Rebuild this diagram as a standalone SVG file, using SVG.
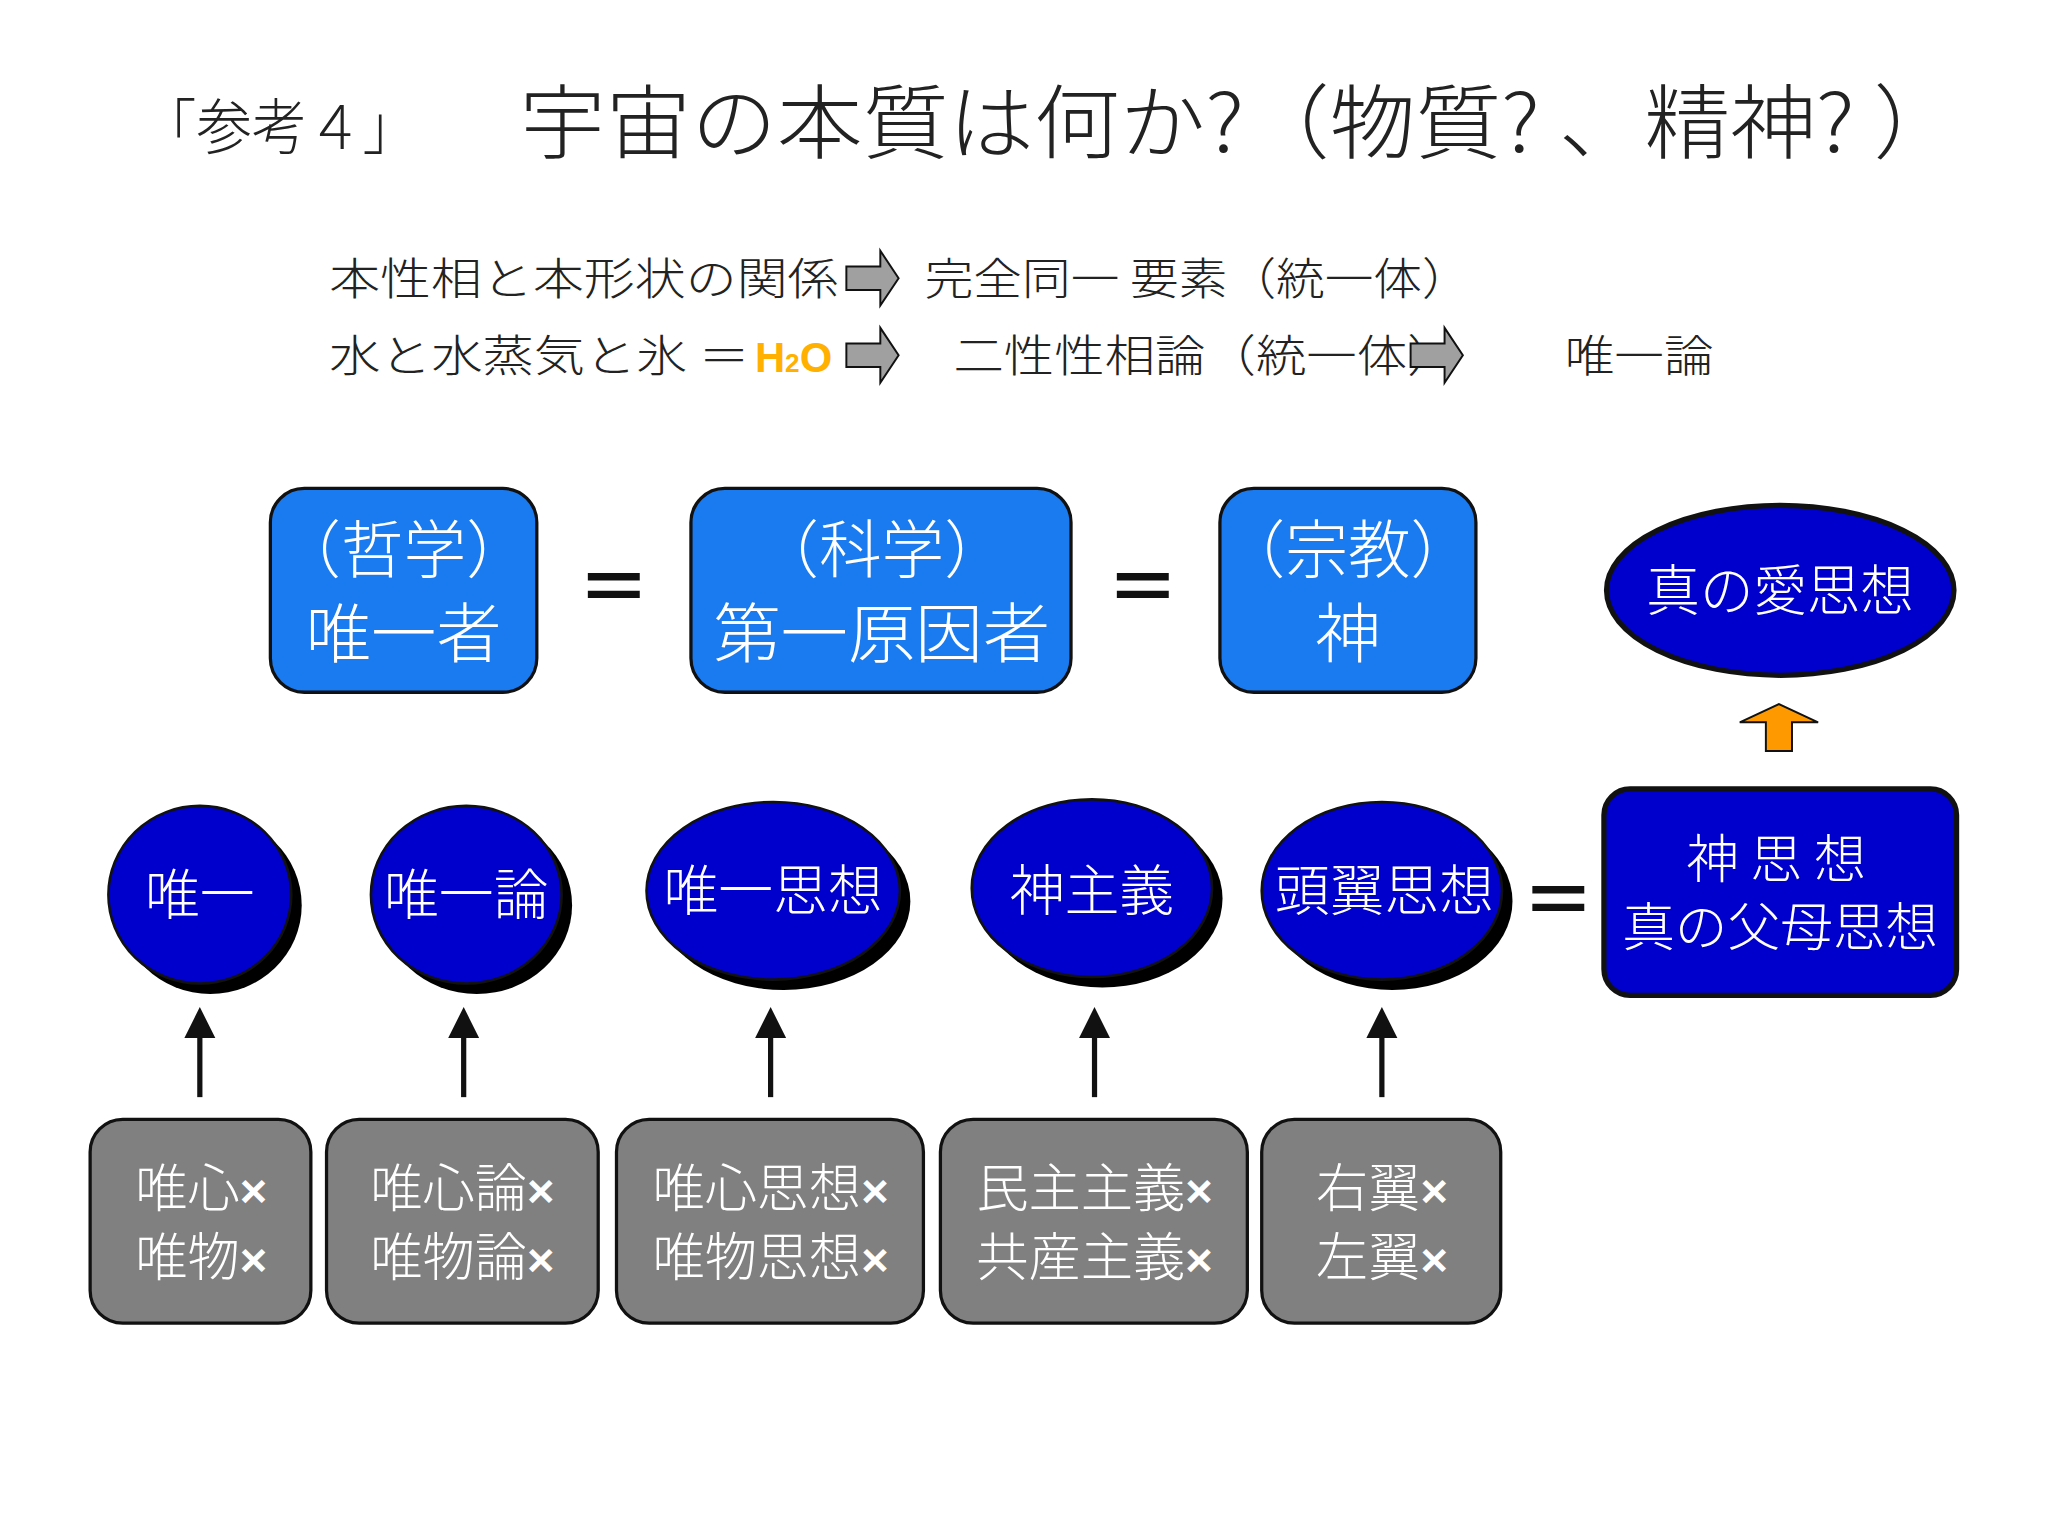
<svg xmlns="http://www.w3.org/2000/svg" width="2048" height="1536" viewBox="0 0 2048 1536">
<style>
text{font-family:"Noto Sans CJK JP","Noto Sans",sans-serif;font-weight:300}
.t{fill:#222}
.w{fill:#fff;text-anchor:middle}
.x{font-family:"Liberation Sans",sans-serif;font-weight:700;font-size:36px}
.h{font-family:"Liberation Sans",sans-serif;font-weight:700;fill:#ffb000}
.bb{fill:#1a7af0;stroke:#111;stroke-width:2.5}
.db{fill:#0000cc;stroke:#111;stroke-width:4}
.gb{fill:#808080;stroke:#111;stroke-width:2.5}
.ga{fill:#a0a0a0;stroke:#111;stroke-width:1.5}
.eq{font-size:56px;font-weight:700;fill:#111;text-anchor:middle}
</style>
<defs>
<marker id="ah" viewBox="0 0 10 10" refX="5" refY="5" markerWidth="6" markerHeight="6" orient="auto"><path d="M0,0L10,5L0,10z" fill="#111"/></marker>
</defs>
<rect width="2048" height="1536" fill="#fff"/>
<g transform="scale(1.30612)">
<g id="title">
<text class="t" x="108" y="114" font-size="46" textLength="212" lengthAdjust="spacingAndGlyphs">「参考４」</text>
<text class="t" x="398" y="116" font-size="62" textLength="1102" lengthAdjust="spacingAndGlyphs">宇宙の本質は何か?（物質? 、精神? ）</text>
</g>
<g id="lines">
<text class="t" x="252" y="226" font-size="34" textLength="390" lengthAdjust="spacingAndGlyphs">本性相と本形状の関係</text>
<text class="t" x="708" y="226" font-size="34" textLength="418" lengthAdjust="spacingAndGlyphs">完全同一 要素（統一体）</text>
<text class="t" x="252" y="285" font-size="34" textLength="322" lengthAdjust="spacingAndGlyphs">水と水蒸気と氷 ＝</text>
<text class="h" x="578" y="285" font-size="32">H<tspan font-size="20">2</tspan>O</text>
<text class="t" x="730" y="285" font-size="34" textLength="386" lengthAdjust="spacingAndGlyphs">二性性相論（統一体）</text>
<text class="t" x="1198" y="285" font-size="34" textLength="114" lengthAdjust="spacingAndGlyphs">唯一論</text>
<path class="ga" d="M648,204h26v-12l14,21l-14,21v-12h-26z"/>
<path class="ga" d="M648,263h26v-12l14,21l-14,21v-12h-26z"/>
<path class="ga" d="M1080,263h26v-12l14,21l-14,21v-12h-26z"/>
</g>
<g id="box-tetsugaku"><rect class="bb" x="207" y="374" width="204" height="156" rx="26"/>
<text class="w" x="309" y="438" font-size="48">（哲学）</text><text class="w" x="309" y="503" font-size="50">唯一者</text></g>
<g id="box-kagaku"><rect class="bb" x="529" y="374" width="291" height="156" rx="26"/>
<text class="w" x="675" y="438" font-size="48">（科学）</text><text class="w" x="675" y="503" font-size="50" textLength="258" lengthAdjust="spacingAndGlyphs">第一原因者</text></g>
<g id="box-shukyo"><rect class="bb" x="934" y="374" width="196" height="156" rx="26"/>
<text class="w" x="1032" y="438" font-size="48">（宗教）</text><text class="w" x="1032" y="503" font-size="50">神</text></g>
<text class="eq" x="470" y="470">＝</text>
<text class="eq" x="875" y="470">＝</text>
<g id="ai"><ellipse class="db" cx="1363" cy="452" rx="133" ry="65"/><text class="w" x="1363" y="467" font-size="42" textLength="205" lengthAdjust="spacingAndGlyphs">真の愛思想</text></g>
<path d="M1352,575v-22h-20l30,-14l30,14h-20v22z" fill="#ff9900" stroke="#111" stroke-width="1.5"/>
<g id="c1"><ellipse cx="161" cy="693" rx="70" ry="68" fill="#000"/><ellipse cx="153" cy="685" rx="70" ry="68" fill="#0000cc" stroke="#111" stroke-width="2"/><text class="w" x="153" y="700" font-size="42">唯一</text></g>
<g id="c2"><ellipse cx="365" cy="693" rx="73" ry="68" fill="#000"/><ellipse cx="357" cy="685" rx="73" ry="68" fill="#0000cc" stroke="#111" stroke-width="2"/><text class="w" x="357" y="700" font-size="42">唯一論</text></g>
<g id="c3"><ellipse cx="600" cy="690" rx="97" ry="68" fill="#000"/><ellipse cx="592" cy="682" rx="97" ry="68" fill="#0000cc" stroke="#111" stroke-width="2"/><text class="w" x="592" y="697" font-size="42">唯一思想</text></g>
<g id="c4"><ellipse cx="844" cy="688" rx="92" ry="68" fill="#000"/><ellipse cx="836" cy="680" rx="92" ry="68" fill="#0000cc" stroke="#111" stroke-width="2"/><text class="w" x="836" y="697" font-size="42">神主義</text></g>
<g id="c5"><ellipse cx="1066" cy="690" rx="92" ry="68" fill="#000"/><ellipse cx="1058" cy="682" rx="92" ry="68" fill="#0000cc" stroke="#111" stroke-width="2"/><text class="w" x="1060" y="697" font-size="42">頭翼思想</text></g>
<text class="eq" x="1193" y="710">＝</text>
<g id="shin"><rect class="db" x="1228" y="604" width="270" height="158" rx="20"/>
<text class="w" x="1360" y="672" font-size="40">神 思 想</text><text class="w" x="1363" y="724" font-size="40" textLength="242" lengthAdjust="spacingAndGlyphs">真の父母思想</text></g>
<g id="connectors" stroke="#111" stroke-width="4" marker-end="url(#ah)">
<line x1="153" y1="840" x2="153" y2="783"/>
<line x1="355" y1="840" x2="355" y2="783"/>
<line x1="590" y1="840" x2="590" y2="783"/>
<line x1="838" y1="840" x2="838" y2="783"/>
<line x1="1058" y1="840" x2="1058" y2="783"/>
</g>
<g id="g1"><rect class="gb" x="69" y="857" width="169" height="156" rx="25"/><text class="w" x="154" y="924" font-size="40">唯心<tspan class="x">×</tspan></text><text class="w" x="154" y="977" font-size="40">唯物<tspan class="x">×</tspan></text></g>
<g id="g2"><rect class="gb" x="250" y="857" width="208" height="156" rx="25"/><text class="w" x="354" y="924" font-size="40">唯心論<tspan class="x">×</tspan></text><text class="w" x="354" y="977" font-size="40">唯物論<tspan class="x">×</tspan></text></g>
<g id="g3"><rect class="gb" x="472" y="857" width="235" height="156" rx="25"/><text class="w" x="590" y="924" font-size="40">唯心思想<tspan class="x">×</tspan></text><text class="w" x="590" y="977" font-size="40">唯物思想<tspan class="x">×</tspan></text></g>
<g id="g4"><rect class="gb" x="720" y="857" width="235" height="156" rx="25"/><text class="w" x="838" y="924" font-size="40">民主主義<tspan class="x">×</tspan></text><text class="w" x="838" y="977" font-size="40">共産主義<tspan class="x">×</tspan></text></g>
<g id="g5"><rect class="gb" x="966" y="857" width="183" height="156" rx="25"/><text class="w" x="1058" y="924" font-size="40">右翼<tspan class="x">×</tspan></text><text class="w" x="1058" y="977" font-size="40">左翼<tspan class="x">×</tspan></text></g>
</g>
</svg>
